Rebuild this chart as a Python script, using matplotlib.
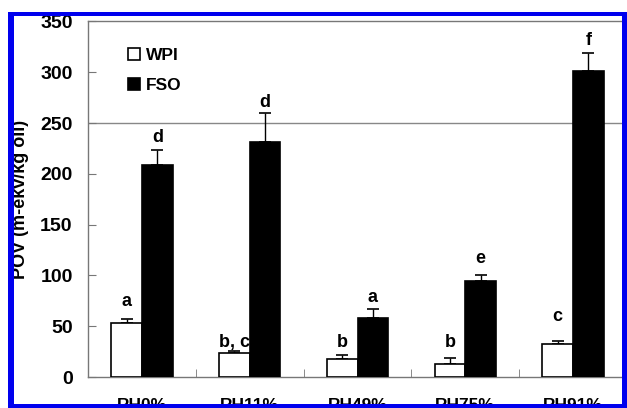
import numpy as np
import matplotlib
matplotlib.use("Agg")
import matplotlib.pyplot as plt
from matplotlib.patches import Rectangle

plt.rcParams['font.family'] = ['Liberation Sans', 'DejaVu Sans']
plt.rcParams['font.weight'] = 'bold'

# data
groups = ["RH0%", "RH11%", "RH49%", "RH75%", "RH91%"]
wpi = [53, 23.5, 18, 13, 32.5]
wpi_err = [4, 2.5, 3.5, 5.5, 2.5]
fso = [208.5, 231.5, 58.5, 94.5, 301]
fso_err = [14.5, 28.5, 8, 5.5, 18]
wpi_letters = ["a", "b, c", "b", "b", "c"]
fso_letters = ["d", "d", "a", "e", "f"]
wpi_letter_y = [70, 30, 30, 30, 55]
fso_letter_y = [231, 266, 74, 112, 327]

W, H = 627, 408
fig = plt.figure(figsize=(W / 100, H / 100), dpi=100)
ax = fig.add_axes([88 / W, 31 / H, 539 / W, 355.6 / H])

x = np.arange(len(groups))
bw = 0.285
b1 = ax.bar(x - bw / 2, wpi, bw, color='white', edgecolor='black', lw=1.2, label='WPI', zorder=3)
b2 = ax.bar(x + bw / 2, fso, bw, color='black', edgecolor='black', lw=1.2, label='FSO', zorder=3)
ax.errorbar(x - bw / 2, wpi, yerr=[np.zeros(5), wpi_err], fmt='none', ecolor='black',
            elinewidth=1, capsize=4.5, capthick=1.2, zorder=2)
ax.errorbar(x + bw / 2, fso, yerr=[np.zeros(5), fso_err], fmt='none', ecolor='black',
            elinewidth=1, capsize=4.5, capthick=1.2, zorder=2)

for i in range(len(groups)):
    ax.text(x[i] - bw / 2, wpi_letter_y[i], wpi_letters[i], ha='center', va='baseline',
            fontsize=13, fontweight='bold')
    ax.text(x[i] + bw / 2, fso_letter_y[i], fso_letters[i], ha='center', va='baseline',
            fontsize=13, fontweight='bold')

ax.axhline(250, color='#888888', lw=1, zorder=1)

ax.set_xlim(-0.5, 4.5)
ax.set_ylim(0, 350)
ax.set_yticks(range(0, 351, 50))
ax.set_xticks(x)
ax.set_xticklabels(groups)
ax.set_xticks(x[:-1] + 0.5, minor=True)
ax.tick_params(axis='y', direction='in', length=6, color='#777777', pad=11, labelsize=14)
ax.tick_params(axis='x', which='major', length=0, pad=15, labelsize=12.5)
ax.tick_params(axis='x', which='minor', direction='in', length=6, color='#777777')
for lab in ax.get_yticklabels() + ax.get_xticklabels():
    lab.set_fontweight('bold')

for s in ['left', 'top', 'bottom']:
    ax.spines[s].set_color('#777777')
    ax.spines[s].set_linewidth(1)
ax.spines['right'].set_visible(False)

ax.set_ylabel('POV (m-ekv/kg oil)', fontsize=13, fontweight='bold', labelpad=8)

ax.legend(loc='upper left', bbox_to_anchor=(0.074, 0.926), frameon=False,
          handlelength=0.7, handleheight=0.7, handletextpad=0.35,
          labelspacing=0.85, borderpad=0, borderaxespad=0,
          prop={'weight': 'bold', 'size': 12.5})

# blue frame around the picture
blue = '#0000ee'
for (x0, y0, x1, y1) in [(8, 12, 627, 16), (8, 12, 14, 408), (622, 12, 627, 408), (8, 404, 627, 408)]:
    fig.add_artist(Rectangle((x0 / W, 1 - y1 / H), (x1 - x0) / W, (y1 - y0) / H,
                             transform=fig.transFigure, color=blue, lw=0, zorder=10))

fig.savefig('out.png', dpi=100)
